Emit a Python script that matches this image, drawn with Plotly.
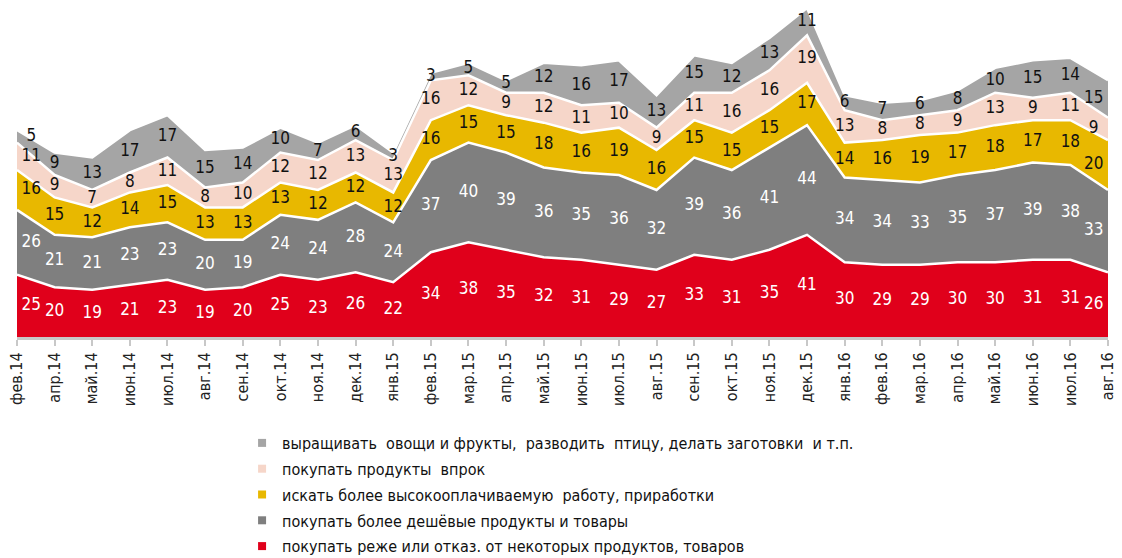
import plotly.graph_objects as go

categories = ["фев.14", "апр.14", "май.14", "июн.14", "июл.14", "авг.14", "сен.14", "окт.14",
              "ноя.14", "дек.14", "янв.15", "фев.15", "мар.15", "апр.15", "май.15", "июн.15",
              "июл.15", "авг.15", "сен.15", "окт.15", "ноя.15", "дек.15", "янв.16", "фев.16",
              "мар.16", "апр.16", "май.16", "июн.16", "июл.16", "авг.16"]

red_vals = [25, 20, 19, 21, 23, 19, 20, 25, 23, 26, 22, 34, 38, 35, 32, 31, 29, 27, 33, 31,
            35, 41, 30, 29, 29, 30, 30, 31, 31, 26]
dgray_vals = [26, 21, 21, 23, 23, 20, 19, 24, 24, 28, 24, 37, 40, 39, 36, 35, 36, 32, 39, 36,
              41, 44, 34, 34, 33, 35, 37, 39, 38, 33]
yellow_vals = [16, 15, 12, 14, 15, 13, 13, 13, 12, 12, 12, 16, 15, 15, 18, 16, 19, 16, 15, 15,
               15, 17, 14, 16, 19, 17, 18, 17, 18, 20]
pink_vals = [11, 9, 7, 8, 11, 8, 10, 12, 12, 13, 13, 16, 12, 9, 12, 11, 10, 9, 11, 16,
             16, 19, 13, 8, 8, 9, 13, 9, 11, 9]
lgray_vals = [5, 9, 13, 17, 17, 15, 14, 10, 7, 6, 3, 3, 5, 5, 12, 16, 17, 13, 15, 12,
              13, 11, 6, 7, 6, 8, 10, 15, 14, 15]

series_names = [
    "покупать реже или отказ. от некоторых продуктов, товаров",
    "покупать более дешёвые продукты и товары",
    "искать более высокооплачиваемую  работу, приработки",
    "покупать продукты  впрок",
    "выращивать  овощи и фрукты,  разводить  птицу, делать заготовки  и т.п.",
]

series = [red_vals, dgray_vals, yellow_vals, pink_vals, lgray_vals]
colors = ["#e0001b", "#7f7f7f", "#e8b800", "#f6d6c9", "#a5a5a5"]
text_colors = ["white", "white", "#111111", "#111111", "#111111"]

FONT = "Liberation Sans Narrow, DejaVu Sans Condensed, Arial Narrow, sans-serif"

n = len(categories)
x = list(range(n))
# label x positions: edge labels nudged inward so they stay inside the areas
label_x = [xi + (0.38 if i == 0 else (-0.38 if i == n - 1 else 0.0)) for i, xi in enumerate(x)]
LABEL_GAP = 8.0  # minimal vertical distance between stacked labels (data units)

fig = go.Figure()

for name, vals, col in zip(series_names, series, colors):
    fig.add_trace(go.Scatter(
        x=x, y=vals, name=name, mode="lines", stackgroup="one",
        line=dict(color="white", width=2.5), fillcolor=col,
        hoverinfo="skip", showlegend=False,
    ))

cum = [0] * n
prev_y = None
for vals, tcol in zip(series, text_colors):
    mids = [c + v / 2 for c, v in zip(cum, vals)]
    if prev_y is not None:
        mids = [max(m, p + LABEL_GAP) for m, p in zip(mids, prev_y)]
    prev_y = mids
    cum = [c + v for c, v in zip(cum, vals)]
    fig.add_trace(go.Scatter(
        x=label_x, y=mids, mode="text", text=[str(v) for v in vals],
        textposition="middle center",
        textfont=dict(family=FONT, size=17, color=tcol),
        showlegend=False, hoverinfo="skip", cliponaxis=False,
    ))

# legend entries with small square markers (top series listed first)
for i in reversed(range(len(series_names))):
    fig.add_trace(go.Scatter(
        x=[None], y=[None], mode="markers", name=series_names[i],
        marker=dict(symbol="square", size=8, color=colors[i]),
        legendgroup="g%d" % i, showlegend=True, hoverinfo="skip",
    ))

# page body has an 8px margin, so the figure is 8px smaller than the window
fig.update_layout(
    template="none",
    width=1114, height=550,
    margin=dict(l=9, r=14, t=0, b=221, autoexpand=False),
    plot_bgcolor="white", paper_bgcolor="white",
    showlegend=True,
    legend=dict(
        x=0.2063, y=-0.2705, xanchor="left", yanchor="top",
        traceorder="grouped",
        font=dict(family=FONT, size=16, color="#111111"),
        itemwidth=30, tracegroupgap=2,
        bgcolor="rgba(0,0,0,0)",
    ),
    font=dict(family=FONT),
)
fig.update_xaxes(
    range=[0, n - 1],
    tickmode="array", tickvals=x, ticktext=categories,
    tickangle=-90, tickfont=dict(family=FONT, size=16, color="#222222"),
    ticklabeloverflow="allow",
    showline=True, linecolor="#c8c8c8", linewidth=3,
    ticks="outside", ticklen=6, tickcolor="#c8c8c8", tickwidth=2,
    showgrid=False, zeroline=False,
)
fig.update_yaxes(range=[0, 132], visible=False, showgrid=False, zeroline=False)

fig.write_html("out.html")
